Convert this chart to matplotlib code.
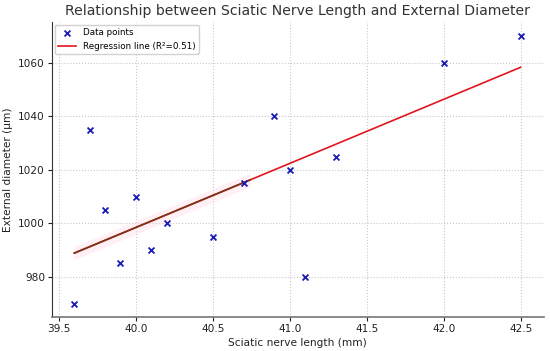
import matplotlib
matplotlib.use('Agg')
import matplotlib.pyplot as plt
import numpy as np

# values
nerve_length = [39.6, 39.7, 39.8, 39.9, 40.0, 40.1, 40.2, 40.5, 40.7, 40.9, 41.0, 41.1, 41.3, 42.0, 42.5]
ext_diameter = [970, 1035, 1005, 985, 1010, 990, 1000, 995, 1015, 1040, 1020, 980, 1025, 1060, 1070]
r2_label = 0.51

x = np.array(nerve_length)
y = np.array(ext_diameter)
slope, intercept = np.polyfit(x, y, 1)
xs = np.linspace(x.min(), x.max(), 100)
ys = slope * xs + intercept

fig = plt.figure(figsize=(5.5, 3.51), dpi=100)
ax = fig.add_axes([0.0945, 0.097, 0.894, 0.84])

ax.scatter(x, y, marker='x', color='#1a1ab4', s=18, linewidths=1.3, label='Data points', zorder=3)
ax.plot(xs, ys, color='#e0161e', lw=1.2, label='Regression line (R\u00b2=%.2f)' % r2_label, zorder=2)

# faint pink band and darker overlay on the left part of the line
left = xs <= 40.75
ax.fill_between(xs[left], ys[left] - 2.5, ys[left] + 2.5, color='#ffd6e4', alpha=0.35, lw=0, zorder=1)
ax.plot(xs[left], ys[left], color='#7a3418', lw=1.2, zorder=2.5)

ax.set_xlim(39.455, 42.65)
ax.set_ylim(965, 1075.3)
ax.set_xticks([39.5, 40.0, 40.5, 41.0, 41.5, 42.0, 42.5])
ax.set_yticks([980, 1000, 1020, 1040, 1060])
ax.grid(True, linestyle=':', color='#c8c8c8', lw=0.8)
ax.set_axisbelow(True)

ax.spines['top'].set_visible(False)
ax.spines['right'].set_visible(False)
ax.spines['left'].set_color('#333333')
ax.spines['bottom'].set_color('#777777')
ax.spines['bottom'].set_linewidth(1.2)
ax.tick_params(labelsize=7.6, colors='#222222', length=3, pad=2)

ax.set_title('Relationship between Sciatic Nerve Length and External Diameter', fontsize=10.1, color='#333333', pad=5)
ax.set_xlabel('Sciatic nerve length (mm)', fontsize=7.6, color='#222222', labelpad=3)
ax.set_ylabel('External diameter (\u03bcm)', fontsize=7.6, color='#222222', labelpad=4)

ax.legend(loc='upper left', fontsize=6.3, framealpha=0.9, borderaxespad=0.3)

fig.savefig('out.png', dpi=100)
